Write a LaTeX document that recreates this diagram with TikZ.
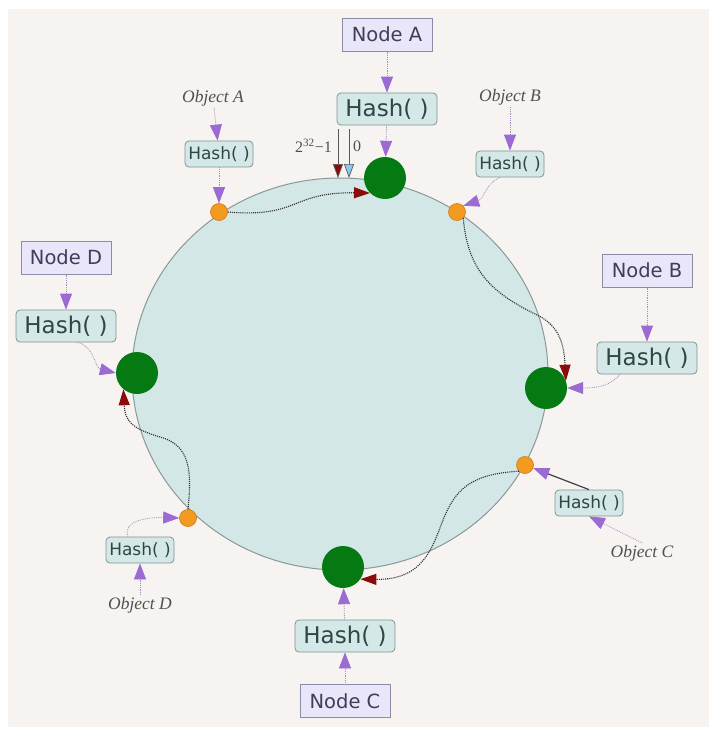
\documentclass[tikz,border=0pt]{standalone}
\usepackage{fontspec}
\setmainfont{Liberation Serif}
\newfontfamily\boxfont{DejaVu Sans}
\usepackage{tikz}
\usetikzlibrary{arrows.meta,positioning,shapes.geometric}
\definecolor{panelbg}{HTML}{F6F3F0}
\definecolor{ringfill}{HTML}{D3E7E6}
\definecolor{ringline}{HTML}{8A9898}
\definecolor{srvgreen}{HTML}{067A12}
\definecolor{objorange}{HTML}{F39A20}
\definecolor{objedge}{HTML}{D07A12}
\definecolor{nodefill}{HTML}{E8E6F8}
\definecolor{nodeline}{HTML}{8C8CA6}
\definecolor{nodetext}{HTML}{3E3E5A}
\definecolor{hashfill}{HTML}{D4E8E7}
\definecolor{hashline}{HTML}{7E9494}
\definecolor{hashtext}{HTML}{2F4646}
\definecolor{lbltext}{HTML}{505050}
\definecolor{feedpurple}{HTML}{9B6BD3}
\definecolor{feedline}{HTML}{A090BC}
\definecolor{routered}{HTML}{8B0A0A}
\definecolor{routeline}{HTML}{303030}
\definecolor{zeroblue}{HTML}{8FC8EE}
\tikzset{
  ring/.style={ellipse, draw=ringline, fill=ringfill, line width=1pt,
    minimum width=416pt, minimum height=392pt, inner sep=0pt},
  server/.style={circle, fill=srvgreen, minimum size=42pt, inner sep=0pt},
  objdot/.style={circle, fill=objorange, draw=objedge, line width=0.6pt,
    minimum size=17pt, inner sep=0pt},
  nodebox/.style={draw=nodeline, fill=nodefill, line width=0.8pt,
    minimum width=90pt, minimum height=33pt, inner sep=0pt, text=nodetext,
    font={\boxfont\fontsize{19.5}{22}\selectfont}},
  hashbig/.style={draw=hashline, fill=hashfill, rounded corners=4pt, line width=0.8pt,
    minimum width=100pt, minimum height=32pt, inner sep=0pt, text=hashtext,
    font={\boxfont\fontsize{23}{26}\selectfont}},
  hashsmall/.style={hashbig, minimum width=68pt, minimum height=26pt,
    font={\boxfont\fontsize{17}{19}\selectfont}},
  objlbl/.style={text=lbltext, inner sep=2pt, font=\itshape\fontsize{17.5}{20}\selectfont},
  marklbl/.style={text=lbltext, inner sep=1pt, font=\fontsize{16}{18}\selectfont},
  feed/.style={-{Triangle[length=16pt,width=12pt,color=feedpurple]}, densely dotted,
    draw=feedline, line width=0.8pt},
  feedsolid/.style={feed, solid, draw=routeline!80!feedpurple, line width=1.2pt},
  route/.style={-{Triangle[length=16pt,width=11pt,color=routered]}, densely dotted,
    draw=routeline, line width=1.1pt},
  wrap/.style={-{Triangle[length=14pt,width=10pt,fill=#1]}, draw=black!65, line width=0.7pt}
}

\begin{document}
\begin{tikzpicture}[x=1pt, y=-1pt, node distance=40pt]
  \useasboundingbox (0,0) rectangle (720,744);
  \fill[white] (0,0) rectangle (720,744);
  \fill[panelbg] (8,9) rectangle (709,727);

  % hash ring
  \node[ring] (ring) at (340,374) {};

  % nodes on the ring
  \node[server] (srvA) at (385,178) {};
  \node[server] (srvB) at (546,388) {};
  \node[server] (srvC) at (343,567) {};
  \node[server] (srvD) at (137,373) {};

  % objects on the ring
  \node[objdot] (objA) at (219,212) {};
  \node[objdot] (objB) at (457,212) {};
  \node[objdot] (objC) at (525,465) {};
  \node[objdot] (objD) at (188,518) {};

  % node hashing
  \node[hashbig] (hashA) at (387,109) {Hash( )};
  \node[nodebox, above=41pt of hashA] (nodeA) {Node A};
  \node[hashbig] (hashB) at (647,358) {Hash( )};
  \node[nodebox, above=54pt of hashB] (nodeB) {Node B};
  \node[hashbig] (hashC) at (345,636) {Hash( )};
  \node[nodebox, below=32pt of hashC] (nodeC) {Node C};
  \node[hashbig] (hashD) at (66,326) {Hash( )};
  \node[nodebox, above=35pt of hashD] (nodeD) {Node D};

  % object hashing
  \node[hashsmall] (hashAs) at (219,154) {Hash( )};
  \node[objlbl] (labA) at (213,98) {Object A};
  \node[hashsmall] (hashBs) at (510,164) {Hash( )};
  \node[objlbl] (labB) at (510,97) {Object B};
  \node[hashsmall] (hashCs) at (589,503) {Hash( )};
  \node[objlbl] (labC) at (642,553) {Object C};
  \node[hashsmall] (hashDs) at (140,550) {Hash( )};
  \node[objlbl] (labD) at (140,605) {Object D};

  % wrap point
  \coordinate (lastTop) at (338,129);
  \coordinate (lastEnd) at (338,178);
  \coordinate (zeroTop) at (349,129);
  \coordinate (zeroEnd) at (349,178);
  \node[marklbl, anchor=east] (lastLbl) at (333,146) {2\textsuperscript{32}−1};
  \node[marklbl] (zeroLbl) at (357,146) {0};
  \draw[wrap=routered] (lastTop) -- (lastEnd);
  \draw[wrap=zeroblue] (zeroTop) -- (zeroEnd);

  % hashing arrows
  \draw[feed] (nodeA) -- (hashA);
  \draw[feed] (hashA) -- (srvA);
  \draw[feed] (nodeB) -- (hashB);
  \draw[feed] ([xshift=-27pt]hashB.south) .. controls (610,386) and (598,388) .. (srvB.east);
  \draw[feed] (nodeC) -- (hashC);
  \draw[feed] (hashC) -- (srvC);
  \draw[feed] (nodeD) -- (hashD);
  \draw[feed] ([xshift=11pt]hashD.south) .. controls (94,345) and (95,368) .. (srvD.west);
  \draw[feed] (labA) -- (hashAs);
  \draw[feed] (hashAs) -- (objA);
  \draw[feed] (labB) -- (hashBs);
  \draw[feed] ([xshift=-10pt]hashBs.south) .. controls (486,183) and (484,199) .. (objB.north east);
  \draw[feed] (labC.north) -- (hashCs.south);
  \draw[feedsolid] (hashCs.north) -- (objC);
  \draw[feed] (labD) -- (hashDs);
  \draw[feed] ([xshift=-12pt]hashDs.north) .. controls (122,522) and (145,517) .. (objD.west);

  % clockwise lookup
  \draw[route] (objA.east) .. controls (300,218) and (290,192) .. (srvA.south west);
  \draw[route] (objB.south east) .. controls (468,270) and (490,292) .. (537,315)
    .. controls (560,326) and (564,345) .. (srvB.20);
  \draw[route] (objC.south west) .. controls (470,474) and (455,490) .. (443,520)
    .. controls (433,545) and (425,580) .. (srvC.-35);
  \draw[route] (objD.north) .. controls (192,470) and (190,445) .. (160,437)
    .. controls (130,428) and (125,420) .. (srvD.230);
\end{tikzpicture}
\end{document}
